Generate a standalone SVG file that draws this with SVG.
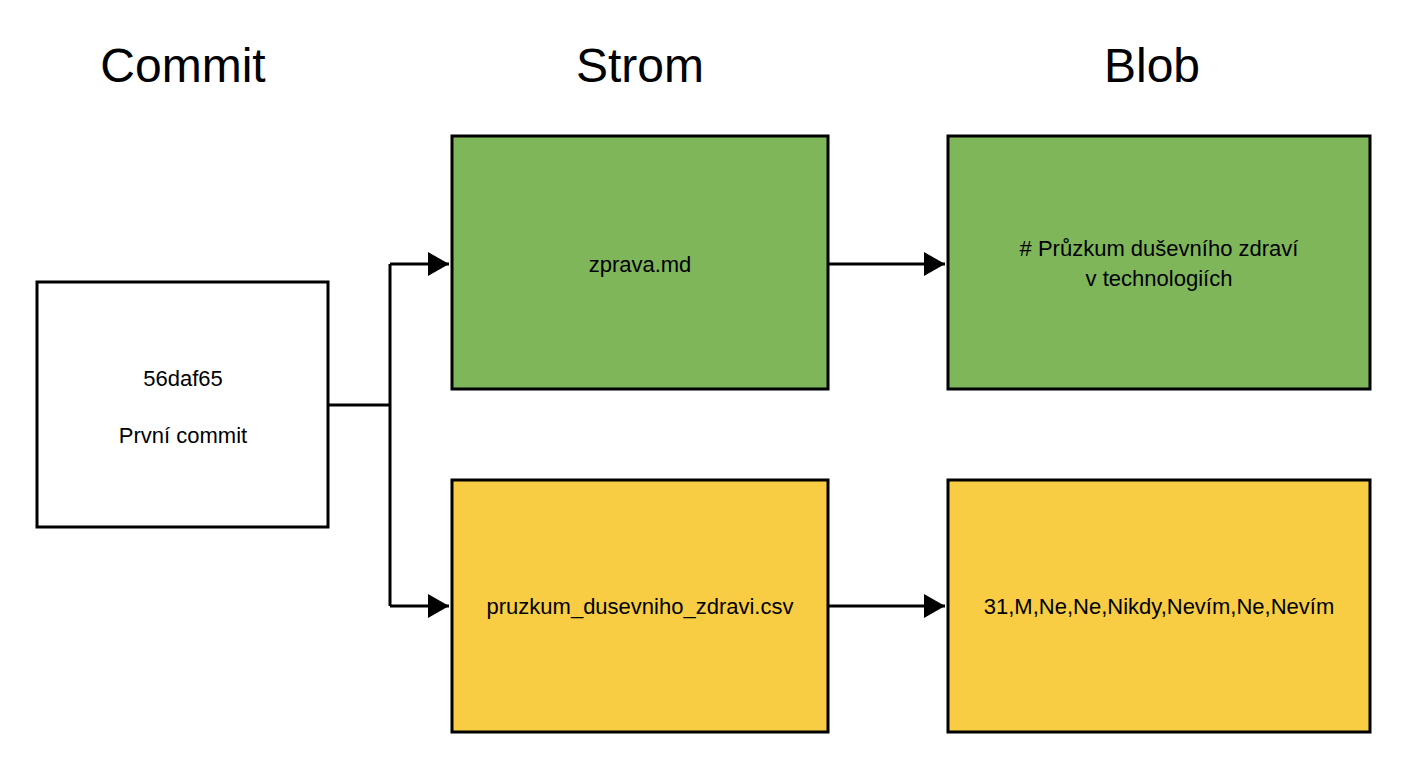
<svg xmlns="http://www.w3.org/2000/svg" width="1408" height="768" viewBox="0 0 1408 768">
<style>
.n{stroke:#000;stroke-width:3}
.t{font-family:"Liberation Sans",Arial,sans-serif;font-size:22px;fill:#000;text-anchor:middle}
.h{font-family:"Liberation Sans",Arial,sans-serif;font-size:48px;fill:#000;text-anchor:middle}
.c{fill:none;stroke:#000;stroke-width:3}
</style>
<defs><marker id="a" markerWidth="8" markerHeight="8" refX="7" refY="4" orient="auto" markerUnits="strokeWidth"><path d="M0,0 L7,4 L0,8 z" fill="#000"/></marker></defs>
<rect width="1408" height="768" fill="#fff"/>
<text class="h" x="183" y="82">Commit</text>
<text class="h" x="640" y="82">Strom</text>
<text class="h" x="1152" y="82">Blob</text>
<g id="commit"><rect class="n" x="37" y="282" width="291" height="245" fill="#fff"/><text class="t" x="183" y="386">56daf65</text><text class="t" x="183" y="443">První commit</text></g>
<g id="tree1"><rect class="n" x="452" y="136" width="376" height="253" fill="#7fb65a"/><text class="t" x="640" y="272">zprava.md</text></g>
<g id="tree2"><rect class="n" x="452" y="480" width="376" height="252" fill="#f8cd44"/><text class="t" x="640" y="614">pruzkum_dusevniho_zdravi.csv</text></g>
<g id="blob1"><rect class="n" x="948" y="136" width="422" height="253" fill="#7fb65a"/><text class="t" x="1159" y="256">#  Průzkum duševního zdraví</text><text class="t" x="1159" y="286">v technologiích</text></g>
<g id="blob2"><rect class="n" x="948" y="480" width="422" height="252" fill="#f8cd44"/><text class="t" x="1159" y="614">31,M,Ne,Ne,Nikdy,Nevím,Ne,Nevím</text></g>
<g id="connectors">
<path class="c" d="M328,405 H390 M390,264 V606"/>
<path class="c" d="M390,264 H449" marker-end="url(#a)"/>
<path class="c" d="M390,606 H449" marker-end="url(#a)"/>
<path class="c" d="M828,264 H945" marker-end="url(#a)"/>
<path class="c" d="M828,606 H945" marker-end="url(#a)"/>
</g>
</svg>
